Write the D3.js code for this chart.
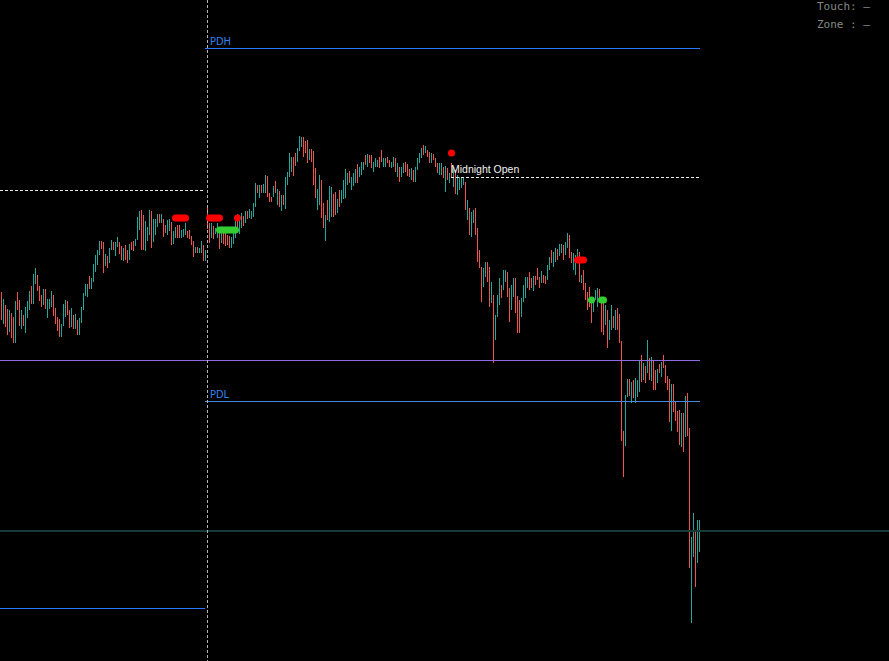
<!DOCTYPE html>
<html><head><meta charset="utf-8">
<script src="https://cdn.jsdelivr.net/npm/d3@7"></script>
<style>html,body{margin:0;padding:0;background:#000;overflow:hidden}</style>
</head><body>
<svg id="c" width="889" height="661"></svg>
<script>
// ---- DATA (prices) ----
const highs = [
2070.8,2070.1,2069.5,2069.1,2069.0,2068.7,2068.3,2069.9,2070.8,2070.0,
2069.0,2068.5,2069.3,2069.9,2070.9,2071.4,2072.6,2073.2,2072.5,2071.4,
2070.5,2071.1,2071.1,2070.1,2070.1,2070.9,2070.5,2069.2,2068.3,2068.1,
2067.6,2069.6,2070.0,2069.9,2069.0,2069.2,2068.5,2068.6,2068.0,2068.2,
2069.3,2070.7,2071.6,2071.6,2072.4,2072.2,2073.6,2074.5,2075.0,2075.9,
2075.9,2075.8,2074.6,2074.4,2075.2,2076.0,2075.8,2075.8,2076.3,2075.8,
2075.4,2075.2,2075.5,2075.0,2075.6,2075.8,2075.9,2076.1,2078.3,2078.9,
2079.0,2078.5,2077.9,2077.3,2079.0,2078.9,2078.1,2078.1,2078.6,2078.6,
2078.6,2078.1,2077.5,2078.0,2078.1,2077.8,2076.9,2077.3,2077.5,2077.5,
2077.0,2077.1,2077.7,2076.9,2077.0,2076.4,2075.9,2075.3,2075.3,2075.2,
2075.9,2075.5,2075.0,2079.2,2077.7,2077.7,2077.4,2077.2,2077.7,2077.2,
2077.0,2077.1,2076.7,2076.5,2076.4,2076.3,2076.7,2077.9,2078.6,2078.1,
2078.7,2078.4,2078.9,2078.9,2079.1,2078.9,2079.7,2081.7,2081.5,2081.5,
2081.5,2081.6,2082.5,2082.4,2080.7,2080.3,2081.4,2081.9,2081.1,2080.9,
2080.5,2080.5,2082.3,2082.8,2084.7,2084.3,2084.3,2084.7,2085.2,2086.4,
2086.3,2086.3,2085.9,2086.0,2085.1,2085.1,2084.9,2083.2,2081.1,2082.5,
2082.0,2079.7,2078.5,2080.0,2081.4,2081.3,2080.6,2080.8,2080.1,2081.0,
2081.0,2082.0,2083.1,2082.7,2082.9,2082.3,2082.7,2083.1,2083.6,2083.3,
2083.8,2083.8,2084.5,2084.6,2084.5,2084.5,2083.8,2084.2,2084.0,2084.3,
2085.0,2084.2,2084.2,2084.3,2084.0,2083.8,2084.3,2084.2,2083.7,2083.3,
2083.3,2083.7,2083.8,2083.6,2083.1,2083.2,2083.0,2083.3,2084.2,2084.7,
2085.2,2085.5,2085.4,2085.0,2084.8,2084.7,2084.6,2084.2,2083.7,2083.7,
2083.7,2083.3,2083.4,2083.2,2082.7,2083.7,2083.3,2083.0,2082.5,2082.3,
2082.2,2082.3,2081.8,2080.0,2079.2,2078.8,2079.0,2079.2,2077.2,2075.0,
2073.3,2073.2,2073.8,2073.8,2073.3,2071.8,2070.5,2068.5,2070.5,2072.2,
2071.5,2073.0,2073.0,2072.8,2071.2,2071.5,2072.2,2072.2,2070.4,2070.0,
2070.2,2071.5,2072.3,2072.3,2072.8,2072.2,2072.4,2072.4,2073.2,2072.3,
2072.9,2072.5,2072.4,2073.5,2074.3,2075.0,2074.8,2075.2,2075.1,2075.6,
2075.6,2075.5,2075.8,2076.7,2076.5,2074.8,2074.7,2074.5,2075.1,2074.8,
2072.5,2073.0,2071.7,2070.8,2071.3,2070.0,2070.3,2071.0,2071.2,2071.1,
2070.3,2069.7,2069.5,2069.0,2068.0,2069.5,2068.4,2069.0,2069.2,2068.6,
2065.9,2056.9,2060.5,2062.1,2062.1,2061.8,2062.0,2062.2,2062.0,2064.0,
2064.5,2063.7,2063.4,2066.0,2064.2,2064.3,2064.0,2063.0,2063.1,2063.6,
2063.8,2064.5,2063.5,2062.4,2062.1,2061.6,2061.6,2059.8,2058.9,2059.0,
2058.7,2058.7,2060.4,2060.7,2057.2,2046.3,2048.7,2046.8,2048.0,2048.0
];
const lows = [
2068.0,2067.6,2067.3,2066.5,2066.8,2066.2,2065.7,2065.7,2069.0,2067.4,
2067.1,2067.4,2066.7,2068.2,2069.0,2069.6,2069.6,2071.6,2070.9,2069.9,
2069.3,2069.5,2069.1,2068.2,2069.1,2069.3,2068.4,2067.6,2066.9,2066.3,
2066.3,2067.4,2068.3,2068.5,2067.2,2067.3,2067.1,2067.1,2066.5,2066.5,
2067.7,2069.0,2070.4,2070.3,2071.1,2071.1,2071.8,2072.8,2073.5,2074.5,
2075.1,2072.7,2073.4,2073.2,2073.7,2075.0,2075.0,2074.4,2075.3,2074.6,
2074.0,2073.9,2074.0,2073.7,2074.0,2075.0,2074.9,2075.4,2076.0,2077.0,
2075.0,2075.0,2074.9,2075.9,2076.5,2075.2,2075.8,2076.5,2077.3,2077.7,
2077.7,2076.3,2076.7,2076.5,2076.9,2075.5,2075.6,2076.2,2076.2,2076.2,
2076.2,2076.3,2076.5,2076.2,2076.1,2075.5,2074.3,2074.7,2074.7,2074.7,
2074.7,2073.9,2073.9,2077.1,2075.7,2076.2,2076.1,2076.6,2076.2,2075.1,
2075.7,2075.6,2075.4,2075.5,2075.2,2075.2,2075.6,2076.2,2077.1,2076.6,
2077.2,2077.4,2077.7,2078.1,2078.2,2078.1,2078.3,2079.3,2080.7,2080.2,
2080.7,2080.7,2080.7,2080.3,2079.8,2079.8,2080.3,2080.7,2079.5,2079.3,
2078.9,2079.5,2079.1,2081.5,2082.3,2082.8,2082.4,2083.4,2083.8,2084.9,
2085.3,2084.3,2084.7,2083.7,2084.0,2083.8,2081.5,2080.2,2079.0,2079.5,
2078.2,2077.2,2075.9,2078.0,2077.8,2078.3,2078.3,2078.5,2078.7,2079.3,
2079.7,2080.1,2080.2,2081.5,2081.7,2081.0,2081.4,2081.7,2081.7,2082.3,
2082.5,2083.0,2083.5,2083.3,2083.7,2083.2,2082.8,2083.3,2083.3,2083.2,
2083.8,2083.3,2083.3,2083.7,2083.3,2083.2,2083.3,2082.8,2082.3,2081.8,
2082.3,2082.7,2082.8,2082.4,2082.3,2082.0,2081.8,2081.8,2083.0,2083.7,
2084.2,2084.5,2084.7,2084.3,2083.7,2083.7,2084.0,2083.3,2082.7,2082.5,
2082.5,2082.2,2080.8,2082.0,2081.7,2082.2,2081.3,2080.6,2080.5,2081.0,
2081.2,2081.5,2079.0,2078.0,2076.5,2076.3,2077.7,2076.5,2073.8,2073.2,
2069.8,2071.3,2072.3,2071.8,2069.3,2069.7,2063.7,2066.0,2068.3,2069.5,
2070.2,2071.0,2071.8,2070.3,2067.8,2069.0,2070.3,2068.7,2066.7,2066.7,
2068.3,2069.8,2070.2,2071.2,2071.0,2071.2,2070.9,2071.5,2072.0,2071.2,
2071.7,2071.7,2071.6,2072.0,2073.0,2073.7,2073.3,2073.8,2074.0,2074.4,
2074.7,2074.0,2074.5,2075.2,2074.2,2073.7,2073.0,2072.5,2074.0,2071.8,
2071.7,2071.0,2070.0,2069.0,2069.3,2067.7,2068.8,2070.0,2069.3,2069.7,
2066.8,2066.5,2067.5,2065.2,2066.0,2067.0,2067.2,2067.0,2067.0,2065.7,
2055.9,2052.3,2055.4,2060.3,2060.4,2059.7,2060.2,2059.7,2060.3,2060.8,
2061.8,2062.0,2061.7,2062.7,2062.0,2061.9,2061.0,2061.0,2061.7,2062.7,
2062.3,2063.2,2061.7,2061.0,2057.8,2056.9,2058.8,2057.9,2056.8,2055.5,
2055.3,2054.8,2056.3,2056.4,2043.2,2037.7,2044.3,2041.3,2043.7,2044.8
];
// 1 = bullish bar (teal), 0 = bearish bar (red)
const ups = [
0,1,0,0,1,0,0,1,0,0, 1,0,1,1,1,0,1,1,0,0, 0,1,0,1,1,1,0,0,0,0, 1,1,1,0,0,1,0,1,0,1,
1,1,1,1,0,1,1,1,1,1, 0,0,1,0,1,1,0,1,1,0, 0,1,0,0,1,0,0,1,1,1, 0,0,1,1,1,0,1,1,1,0,
1,0,0,1,1,0,1,1,0,0, 1,1,1,0,0,0,0,1,0,1, 1,0,1,0,0,1,0,1,1,0, 1,0,0,0,0,1,1,1,0,1,
1,0,1,0,1,1,1,1,0,1, 0,1,1,0,0,0,1,0,1,0, 1,0,1,1,1,1,0,0,1,1, 1,0,0,0,1,0,0,0,1,1,
0,0,1,0,1,1,0,0,1,0, 1,1,1,1,0,1,1,1,0,1, 1,1,0,1,0,0,1,1,1,0, 0,1,1,0,0,1,1,0,1,0,
1,1,0,0,0,1,0,1,1,1, 1,0,1,0,0,1,0,0,0,1, 1,0,1,0,1,0,1,0,1,1, 1,1,0,1,0,1,1,0,0,0,
0,1,1,0,0,1,0,1,1,1, 0,1,1,0,0,1,1,0,0,0, 1,1,1,1,0,0,1,0,0,0, 1,0,0,1,1,0,1,1,0,1,
1,0,1,1,0,0,1,1,1,0, 1,0,0,0,0,0,1,1,1,0, 0,0,1,0,1,1,0,1,0,0, 0,0,1,1,0,1,0,1,1,1,
0,1,0,1,0,1,0,0,1,0, 1,0,0,0,0,1,0,0,0,0, 1,0,1,0,0,1,1,0,1,1
];
// signal dots: bar index + price
const redDotBars   = [87,88,89,90,91,92, 104,105,106,107,108,109, 118, 225, 288,289,290,291];
const redDotPrices = [2078.2,2078.2,2078.2,2078.2,2078.2,2078.2, 2078.2,2078.2,2078.2,2078.2,2078.2,2078.2, 2078.2, 2084.7, 2074.0,2074.0,2074.0,2074.0];
const greenDotBars   = [109,110,111,112,113,114,115,116,117, 295, 300,301];
const greenDotPrices = [2077.0,2077.0,2077.0,2077.0,2077.0,2077.0,2077.0,2077.0,2077.0, 2070.0, 2070.0,2070.0];
// levels
const pdhPrice = 2095.2, pdlPrice = 2059.9, midnightOpen = 2082.3;
const prevMidnight = 2081.0, purpleLevel = 2064.0, currentPrice = 2046.9, prevPdl = 2039.2;
const sessionBar = 103, lastBar = 349.5;
const statusLabels = ["Touch: \u2014", "Zone : \u2014"];

// ---- DRAW ----
const W = 889, H = 661;
const x = d3.scaleLinear().domain([0, 350]).range([1, 701]);
const y = d3.scaleLinear().domain([2033.9, 2100]).range([661, 0]);
const svg = d3.select('#c');
svg.append('rect').attr('width', W).attr('height', H).attr('fill', '#000');

const gBars = svg.append('g').attr('shape-rendering', 'crispEdges');
gBars.selectAll('rect').data(highs).join('rect')
  .attr('x', (d, i) => x(i))
  .attr('width', 1)
  .attr('y', d => Math.round(y(d)))
  .attr('height', (d, i) => Math.max(1, Math.round(y(lows[i])) - Math.round(y(d))))
  .attr('fill', (d, i) => ups[i] ? '#26a69a' : '#ef5350');

const gLines = svg.append('g').attr('shape-rendering', 'crispEdges');
function hline(p, i0, i1, color, w, dash) {
  const yy = Math.round(y(p)) + (w % 2 ? 0.5 : 0);
  const l = gLines.append('line')
    .attr('x1', i0 === null ? 0 : x(i0)).attr('x2', i1 === null ? W : x(i1))
    .attr('y1', yy).attr('y2', yy)
    .attr('stroke', color).attr('stroke-width', w);
  if (dash) l.attr('stroke-dasharray', dash);
}
hline(prevMidnight, null, sessionBar - 2, '#e8e8e8', 1, '3,2');
hline(prevPdl, null, sessionBar - 1, '#2979ff', 1);
hline(purpleLevel, null, lastBar, '#8e6ae6', 1);
hline(currentPrice, null, null, '#173c37', 2);
hline(pdhPrice, sessionBar - 1, lastBar, '#2979ff', 1);
hline(pdlPrice, sessionBar - 1, lastBar, '#4a88de', 1);
hline(midnightOpen, 225, lastBar, '#f0f0f0', 1, '3,2');

const sx = Math.round(x(sessionBar)) + 0.5;
gLines.append('line').attr('x1', sx).attr('x2', sx).attr('y1', 0).attr('y2', H)
  .attr('stroke', '#b4b4b4').attr('stroke-width', 1).attr('stroke-dasharray', '3,2');

const gDots = svg.append('g');
gDots.selectAll('circle.r').data(redDotBars).join('circle').attr('class', 'r')
  .attr('cx', d => x(d) + 0.5).attr('cy', (d, i) => y(redDotPrices[i])).attr('r', 3.5).attr('fill', '#ff0000');
gDots.selectAll('circle.g').data(greenDotBars).join('circle').attr('class', 'g')
  .attr('cx', d => x(d) + 0.5).attr('cy', (d, i) => y(greenDotPrices[i])).attr('r', 3.5).attr('fill', '#32cd32');

const lblFont = '"Liberation Sans Narrow","DejaVu Sans Condensed","Liberation Sans",Arial,sans-serif';
svg.append('text').attr('x', x(sessionBar + 1.5)).attr('y', Math.round(y(pdhPrice)) - 3)
  .attr('font-family', lblFont).attr('font-size', 11).attr('fill', '#2f80ee').text('PDH');
svg.append('text').attr('x', x(sessionBar + 1.5)).attr('y', Math.round(y(pdlPrice)) - 3)
  .attr('font-family', lblFont).attr('font-size', 11).attr('fill', '#2f80ee').text('PDL');
svg.append('text').attr('x', x(225)).attr('y', Math.round(y(midnightOpen)) - 4)
  .attr('font-family', '"Liberation Sans",Arial,sans-serif').attr('font-size', 10.5).attr('fill', '#f2f2f2').text('Midnight Open');

svg.selectAll('text.st').data(statusLabels).join('text').attr('class', 'st')
  .attr('x', 817).attr('y', (d, i) => 10 + i * 17.5)
  .attr('font-family', '"DejaVu Sans Mono",monospace').attr('font-size', 11)
  .attr('fill', '#858a87').attr('xml:space', 'preserve').style('white-space', 'pre').text(d => d);
</script>
</body></html>
